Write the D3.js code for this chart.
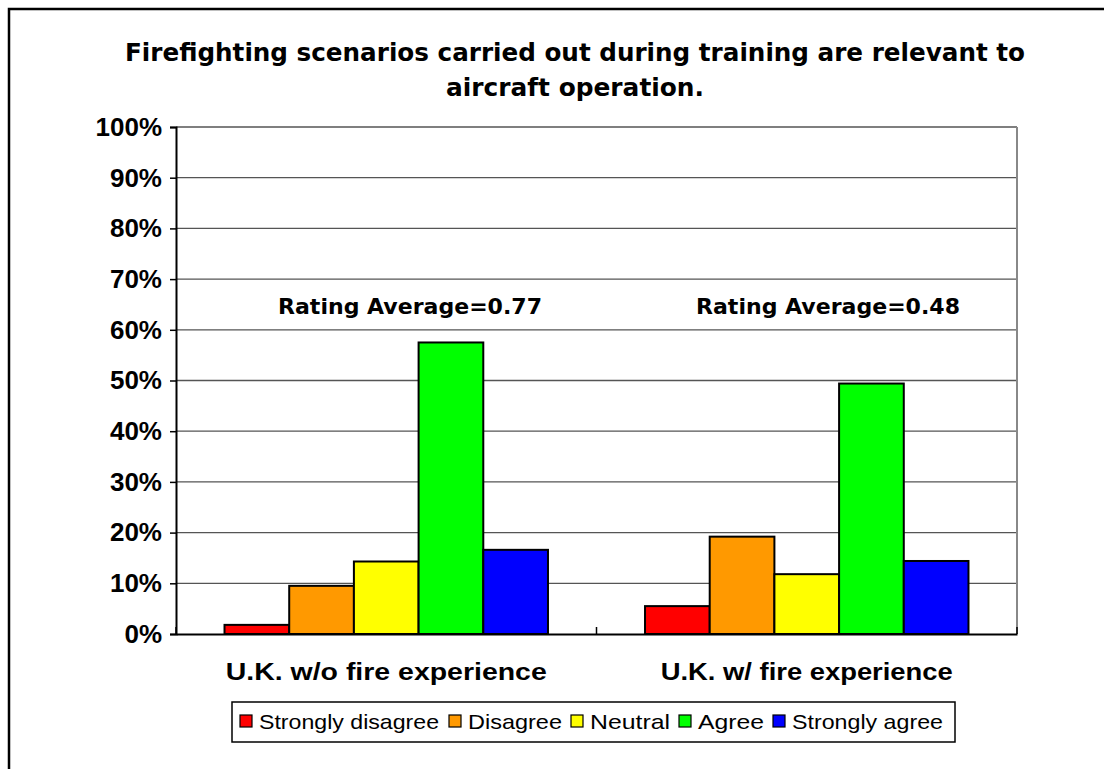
<!DOCTYPE html>
<html>
<head>
<meta charset="utf-8">
<script src="https://cdn.jsdelivr.net/npm/d3@7"></script>
<style>
  body { margin: 0; background: #fff; }
  svg { display: block; }
</style>
</head>
<body>
<div id="chart"></div>
<script>
// données (en %)
const groups = ["U.K. w/o fire experience", "U.K. w/ fire experience"];
const responses = ["Strongly disagree", "Disagree", "Neutral", "Agree", "Strongly agree"];
const noFireExperience = [1.8, 9.5, 14.3, 57.5, 16.6];
const withFireExperience = [5.5, 19.2, 11.8, 49.4, 14.4];
const ratingAverages = ["0.77", "0.48"];
const yTicks = [0, 10, 20, 30, 40, 50, 60, 70, 80, 90, 100];
const colors = ["#ff0000", "#ff9900", "#ffff00", "#00ff00", "#0000ff"];

const titleLines = ["Firefighting scenarios carried out during training are relevant to", "aircraft operation."];

const width = 1104, height = 769;
const plot = { left: 176, right: 1017, top: 127, bottom: 634 };

const svg = d3.select("#chart")
	.append("svg")
	.attr("width", width)
	.attr("height", height);

// cadre extérieur
svg.append("rect")
	.attr("x", 9).attr("y", 9)
	.attr("width", width).attr("height", height)
	.style("fill", "none")
	.style("stroke", "#000")
	.style("stroke-width", 2.5);

const x0 = d3.scaleBand()
	.domain(groups)
	.range([plot.left, plot.right]);

const x1 = d3.scaleBand()
	.domain(responses)
	.range([0, x0.bandwidth()])
	.paddingOuter(0.75);

const y = d3.scaleLinear()
	.domain([0, 100])
	.range([plot.bottom, plot.top]);

// grille
svg.append("g")
	.selectAll("line")
	.data(yTicks.slice(1))
	.enter()
	.append("line")
	.attr("x1", plot.left).attr("x2", plot.right)
	.attr("y1", d => y(d)).attr("y2", d => y(d))
	.style("stroke", "#555")
	.style("stroke-width", 1.3);

svg.append("line")
	.attr("x1", plot.right).attr("x2", plot.right)
	.attr("y1", plot.top).attr("y2", plot.bottom)
	.style("stroke", "#888")
	.style("stroke-width", 2);

// barres
const series = [noFireExperience, withFireExperience];
groups.forEach((g, gi) => {
	svg.append("g")
		.attr("transform", "translate(" + x0(g) + ",0)")
		.selectAll("rect")
		.data(series[gi])
		.enter()
		.append("rect")
		.attr("x", (d, i) => x1(responses[i]))
		.attr("y", d => y(d))
		.attr("width", x1.bandwidth())
		.attr("height", d => y(0) - y(d))
		.style("fill", (d, i) => colors[i])
		.style("stroke", "#000")
		.style("stroke-width", 2);
});

// axe Y
const yAxis = svg.append("g")
	.attr("transform", "translate(" + plot.left + ",0)")
	.call(d3.axisLeft(y).tickValues(yTicks).tickSize(6).tickFormat(d => d + "%"));
yAxis.select(".domain").style("stroke-width", 2);
yAxis.selectAll(".tick line").style("stroke-width", 1.5);
yAxis.selectAll("text")
	.attr("x", -14)
	.style("font-family", "'Liberation Sans', Arial, sans-serif")
	.style("font-weight", "bold")
	.style("font-size", "26px")
	.style("fill", "#000");

// axe X
const xAxis = svg.append("g")
	.attr("transform", "translate(0," + plot.bottom + ")")
	.call(d3.axisBottom(x0).tickSize(0).tickFormat(""));
xAxis.select(".domain").style("stroke-width", 2);
svg.append("g")
	.selectAll("line")
	.data([plot.left, x0(groups[1]), plot.right])
	.enter()
	.append("line")
	.attr("x1", d => d).attr("x2", d => d)
	.attr("y1", plot.bottom).attr("y2", plot.bottom - 7)
	.style("stroke", "#000")
	.style("stroke-width", 1.5);

const labelWidths = [321, 292];
svg.append("g")
	.selectAll("text")
	.data(groups)
	.enter()
	.append("text")
	.attr("x", d => x0(d) + x0.bandwidth() / 2)
	.attr("y", 680)
	.attr("text-anchor", "middle")
	.attr("textLength", (d, i) => labelWidths[i])
	.attr("lengthAdjust", "spacingAndGlyphs")
	.style("font-family", "'Liberation Sans', Arial, sans-serif")
	.style("font-weight", "bold")
	.style("font-size", "24px")
	.text(d => d);

// moyennes
const ratingX = [410, 828];
svg.append("g")
	.selectAll("text")
	.data(ratingAverages)
	.enter()
	.append("text")
	.attr("x", (d, i) => ratingX[i])
	.attr("y", 314)
	.attr("text-anchor", "middle")
	.attr("textLength", 264)
	.attr("lengthAdjust", "spacingAndGlyphs")
	.style("font-family", "'DejaVu Sans', Verdana, sans-serif")
	.style("font-weight", "bold")
	.style("font-size", "22px")
	.text(d => "Rating Average=" + d);

// titre
const titleWidths = [900, 258];
svg.append("g")
	.selectAll("text")
	.data(titleLines)
	.enter()
	.append("text")
	.attr("x", 575)
	.attr("y", (d, i) => 61 + i * 35)
	.attr("text-anchor", "middle")
	.attr("textLength", (d, i) => titleWidths[i])
	.attr("lengthAdjust", "spacingAndGlyphs")
	.style("font-family", "'DejaVu Sans', Verdana, sans-serif")
	.style("font-weight", "bold")
	.style("font-size", "25px")
	.text(d => d);

// légende
const legend = svg.append("g");
legend.append("rect")
	.attr("x", 232).attr("y", 702)
	.attr("width", 723).attr("height", 40)
	.style("fill", "#fff")
	.style("stroke", "#000")
	.style("stroke-width", 1.5);

const legendX = [240, 449, 571, 679, 773];
const legendTextWidths = [180, 94, 80, 66, 151];
const items = legend.selectAll("g.item")
	.data(responses)
	.enter()
	.append("g")
	.attr("class", "item")
	.attr("transform", (d, i) => "translate(" + legendX[i] + ",0)");

items.append("rect")
	.attr("x", 0).attr("y", 715)
	.attr("width", 12).attr("height", 12)
	.style("fill", (d, i) => colors[i])
	.style("stroke", "#000")
	.style("stroke-width", 1.2);

items.append("text")
	.attr("x", 19)
	.attr("y", 729)
	.attr("textLength", (d, i) => legendTextWidths[i])
	.attr("lengthAdjust", "spacingAndGlyphs")
	.style("font-family", "'Liberation Sans', Arial, sans-serif")
	.style("font-size", "21px")
	.text(d => d);
</script>
</body>
</html>
